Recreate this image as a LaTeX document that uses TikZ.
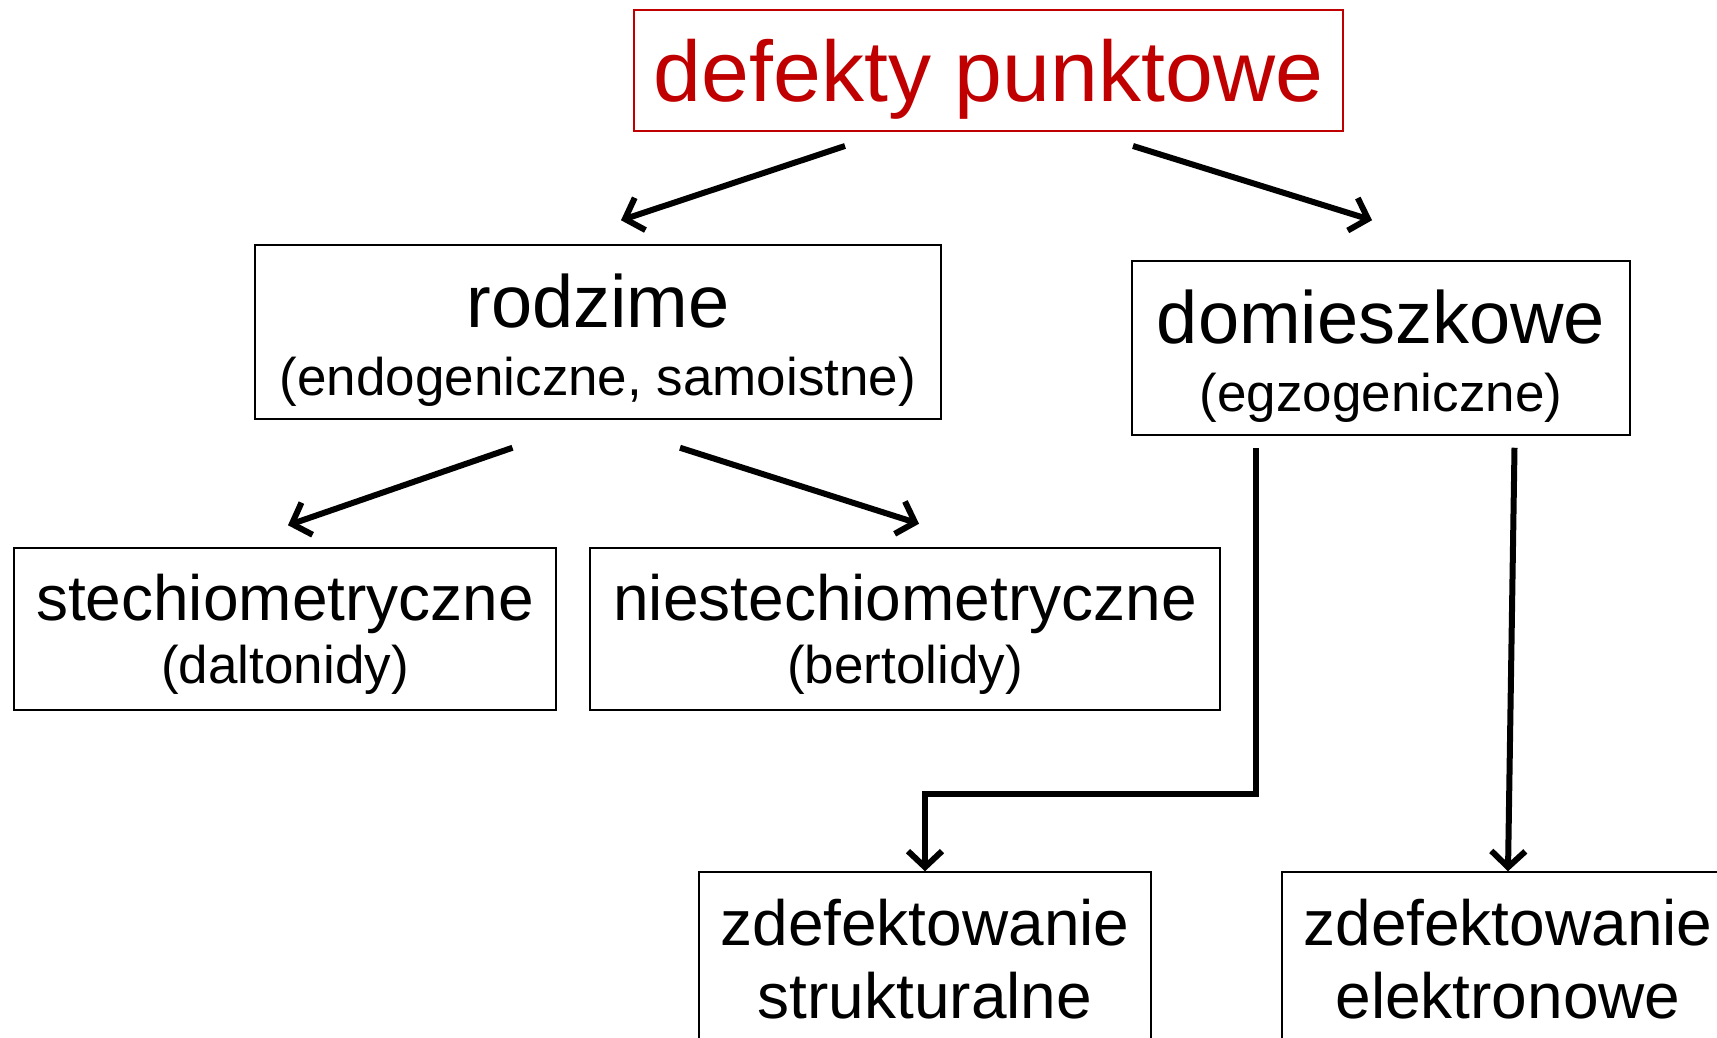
\documentclass[tikz,border=0pt]{standalone}
\usepackage{fontspec}
\setmainfont{Liberation Sans}
\usetikzlibrary{arrows.meta}
\definecolor{defred}{HTML}{C00000}
\newcommand{\tytul}{\fontsize{86}{86}\selectfont}
\newcommand{\glowny}{\fontsize{74}{68}\selectfont}
\newcommand{\sredni}{\fontsize{64}{64}\selectfont}
\newcommand{\opis}{\fontsize{53}{68}\selectfont}
\newcommand{\wys}[1]{\rule{0pt}{#1}}

\begin{document}
\begin{tikzpicture}[x=1pt, y=-1pt,
  box/.style={draw, line width=1.5pt, inner sep=0pt, align=center},
  arr/.style={line width=6pt, -{Straight Barb[length=16pt,width=34pt]}}]
\clip (0,0) rectangle (1717,1038);

% top box
\node[box, draw=defred, line width=2pt, text=defred, minimum width=709pt, minimum height=121pt, font=\tytul, text depth=0pt] (punkt) at (988.5,70.5) {defekty punktowe};

% second level
\node[box, minimum width=686pt, minimum height=174pt, font=\fontsize{53}{68}\selectfont] (rodz) at (598,332)
  {{\glowny\wys{70pt}rodzime}\\{\opis (endogeniczne, samoistne)}};
\node[box, minimum width=498pt, minimum height=174pt, font=\fontsize{53}{68}\selectfont] (domiesz) at (1381,348)
  {{\glowny\wys{70pt}domieszkowe}\\{\opis (egzogeniczne)}};

% third level
\node[box, minimum width=542pt, minimum height=162pt, font=\fontsize{53}{63}\selectfont] (stech) at (285,629)
  {{\sredni\wys{57pt}stechiometryczne}\\{\opis (daltonidy)}};
\node[box, minimum width=630pt, minimum height=162pt, font=\fontsize{53}{63}\selectfont] (niestech) at (905,629)
  {{\sredni\wys{57pt}niestechiometryczne}\\{\opis (bertolidy)}};

% bottom boxes
\node[box, minimum width=452pt, minimum height=174pt, font=\fontsize{64}{73}\selectfont] (strukt) at (925,959)
  {zdefektowanie\\strukturalne};
\node[box, minimum width=452pt, minimum height=174pt, font=\fontsize{64}{73}\selectfont] (elektr) at (1508,959)
  {zdefektowanie\\elektronowe};

% arrows
\draw[arr] ([xshift=-143.5pt,yshift=-14pt]punkt.south) -- ([xshift=23pt,yshift=24pt]rodz.north);
\draw[arr] ([xshift=144.5pt,yshift=-14pt]punkt.south) -- ([xshift=-9pt,yshift=40pt]domiesz.north);
\draw[arr] ([xshift=-85.5pt,yshift=-28pt]rodz.south) -- ([xshift=3pt,yshift=22pt]stech.north);
\draw[arr] ([xshift=82pt,yshift=-28pt]rodz.south) -- ([xshift=14pt,yshift=23.5pt]niestech.north);
\draw[arr] ([xshift=-125pt,yshift=-12pt]domiesz.south) |- ([yshift=77pt]strukt.north) -- (strukt.north);
\draw[arr] ([xshift=133.5pt,yshift=-12pt]domiesz.south) -- (elektr.north);
\end{tikzpicture}
\end{document}
